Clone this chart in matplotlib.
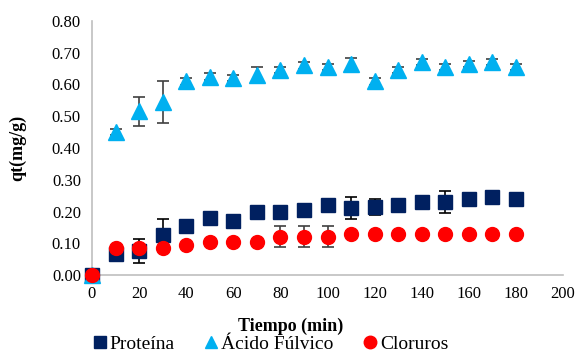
import matplotlib
matplotlib.use("Agg")
import matplotlib.pyplot as plt
import numpy as np

plt.rcParams['font.family'] = ['Liberation Serif', 'DejaVu Serif']

tiempo = [0, 10, 20, 30, 40, 50, 60, 70, 80, 90, 100, 110, 120, 130, 140, 150, 160, 170, 180]

proteina = [0.0, 0.065, 0.075, 0.125, 0.155, 0.18, 0.17, 0.20, 0.20, 0.205, 0.22, 0.21, 0.215,
            0.22, 0.23, 0.23, 0.24, 0.245, 0.24]
proteina_err = [0.0, 0.0, 0.038, 0.05, 0.0, 0.0, 0.0, 0.0, 0.0, 0.0, 0.01, 0.035, 0.025,
                0.0, 0.0, 0.035, 0.0, 0.0, 0.0]

fulvico = [0.0, 0.45, 0.515, 0.545, 0.61, 0.625, 0.62, 0.63, 0.645, 0.66, 0.655, 0.665, 0.61,
           0.645, 0.67, 0.655, 0.665, 0.67, 0.655]
fulvico_err = [0.0, 0.01, 0.045, 0.065, 0.01, 0.01, 0.01, 0.025, 0.01, 0.01, 0.01, 0.02, 0.01,
               0.01, 0.01, 0.01, 0.01, 0.01, 0.01]

cloruros = [0.0, 0.085, 0.085, 0.085, 0.095, 0.105, 0.105, 0.105, 0.12, 0.12, 0.12, 0.13, 0.13,
            0.13, 0.13, 0.13, 0.13, 0.13, 0.13]
cloruros_err = [0.0, 0.0, 0.01, 0.0, 0.0, 0.0, 0.0, 0.0, 0.033, 0.033, 0.033, 0.0, 0.0,
                0.0, 0.0, 0.0, 0.0, 0.0, 0.0]

fig = plt.figure(figsize=(5.82, 3.52), dpi=100)
ax = fig.add_axes([92 / 582, 77 / 352, 471 / 582, 254 / 352])

ax.errorbar(tiempo, proteina, yerr=proteina_err, fmt='s', color='#002060', ms=10,
            ecolor='black', elinewidth=1.2, capsize=4, capthick=1.2, label='Proteína', zorder=3)
ax.errorbar(tiempo, fulvico, yerr=fulvico_err, fmt='^', color='#00B0F0', ms=11,
            ecolor='#404040', elinewidth=1.2, capsize=4, capthick=1.2, label='Ácido Fúlvico', zorder=3)
ax.errorbar(tiempo, cloruros, yerr=cloruros_err, fmt='o', color='#FF0000', ms=10,
            ecolor='#404040', elinewidth=1.2, capsize=4, capthick=1.2, label='Cloruros', zorder=4)

ax.set_xlim(0, 200)
ax.set_ylim(0, 0.8)
ax.set_xticks(np.arange(0, 201, 20))
ax.set_yticks(np.arange(0, 0.81, 0.1))
ax.set_yticklabels([f"{v:.2f}" for v in np.arange(0, 0.81, 0.1)])
ax.tick_params(length=0, labelsize=12, pad=8)

for s in ['top', 'right']:
    ax.spines[s].set_visible(False)
for s in ['left', 'bottom']:
    ax.spines[s].set_color('#bfbfbf')
    ax.spines[s].set_linewidth(1.2)

for c in ax.get_children():
    try:
        c.set_clip_on(False)
    except Exception:
        pass

# x label sits just above the legend, as in the original
fig.text(0.5, 1 - 326 / 352, 'Tiempo (min)', ha='center', va='center', fontsize=13,
         fontweight='bold')
fig.text(18 / 582, 1 - 148 / 352, 'qt(mg/g)', ha='center', va='center', rotation=90,
         fontsize=13, fontweight='bold')

handles = [plt.Line2D([], [], marker='s', color='#002060', ls='', ms=9),
           plt.Line2D([], [], marker='^', color='#00B0F0', ls='', ms=9),
           plt.Line2D([], [], marker='o', color='#FF0000', ls='', ms=9)]
fig.legend(handles, ['Proteína', 'Ácido Fúlvico', 'Cloruros'], loc='center',
           bbox_to_anchor=(0.466, 1 - 344 / 352), ncol=3, frameon=False, fontsize=14,
           handlelength=0.6, handletextpad=0.2, columnspacing=1.6, borderpad=0)

fig.savefig('out.png', dpi=100)
